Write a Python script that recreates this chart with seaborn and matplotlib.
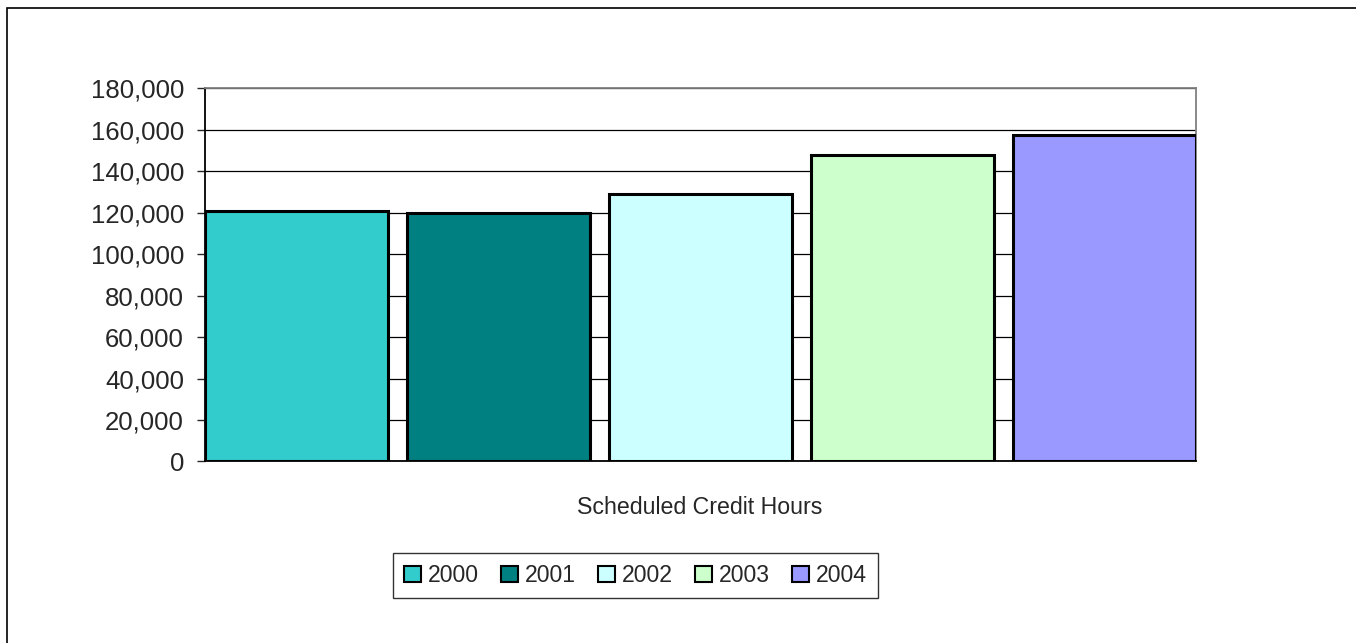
import pandas as pd
import numpy as np
import matplotlib.pyplot as plt
import seaborn as sns
from matplotlib.patches import Patch, Rectangle
from matplotlib.ticker import FuncFormatter

# valores
anos = ['2000', '2001', '2002', '2003', '2004']
horas = [120700, 120100, 129250, 147700, 157500]
cores = ['#33CCCC', '#008080', '#CCFFFF', '#CCFFCC', '#9999FF']
rotulo = 'Scheduled Credit Hours'

df = pd.DataFrame({'ano': anos, 'horas': horas})

sns.set_style('white')
plt.rcParams['font.family'] = ['Liberation Sans', 'DejaVu Sans']

fig = plt.figure(figsize=(13.56, 6.43), dpi=100)
ax = fig.add_axes([0.1512, 0.2823, 0.7307, 0.5801])

largura = 0.904
sns.barplot(data=df, x='ano', y='horas', hue='ano', palette=cores, legend=False,
            width=largura, edgecolor='black', linewidth=2.2, saturation=1, ax=ax, zorder=3)

ax.set_xlim(-largura / 2, len(anos) - 1 + largura / 2)
ax.set_ylim(0, 180000)
ax.set_yticks(np.arange(0, 180001, 20000))
ax.yaxis.set_major_formatter(FuncFormatter(lambda v, p: f'{int(v):,}'))
ax.set_xticks([])
ax.set_xlabel('')
ax.set_ylabel('')
ax.tick_params(axis='y', labelsize=18.5, length=5.8, width=1, direction='out', left=True, pad=9.4)
ax.yaxis.grid(True, color='black', linewidth=0.9, zorder=0)
ax.set_axisbelow(True)

for lado in ['left', 'bottom']:
    ax.spines[lado].set_color('black')
    ax.spines[lado].set_linewidth(1.3)
for lado in ['top', 'right']:
    ax.spines[lado].set_color('#808080')
    ax.spines[lado].set_linewidth(1.3)

fig.text(700 / 1356, 1 - 507 / 643, rotulo, ha='center', va='center', fontsize=16.7)

alcas = [Patch(facecolor=c, edgecolor='black', linewidth=1.5, label=a) for a, c in zip(anos, cores)]
leg = fig.legend(handles=alcas, loc='center', bbox_to_anchor=(635.5 / 1356, 1 - 575.5 / 643),
                 ncol=5, fontsize=16.6, frameon=True, fancybox=False, handlelength=0.74,
                 handleheight=0.74, handletextpad=0.3, columnspacing=0.95, borderpad=0.49)
leg.get_frame().set_edgecolor('black')
leg.get_frame().set_linewidth(1.0)

# moldura externa
fig.patches.append(Rectangle((6.5 / 1356, -0.1), 1.2, 1.1 - 8.5 / 643, transform=fig.transFigure,
                             fill=False, edgecolor='black', linewidth=1.2))

plt.savefig('out.png', dpi=100)
